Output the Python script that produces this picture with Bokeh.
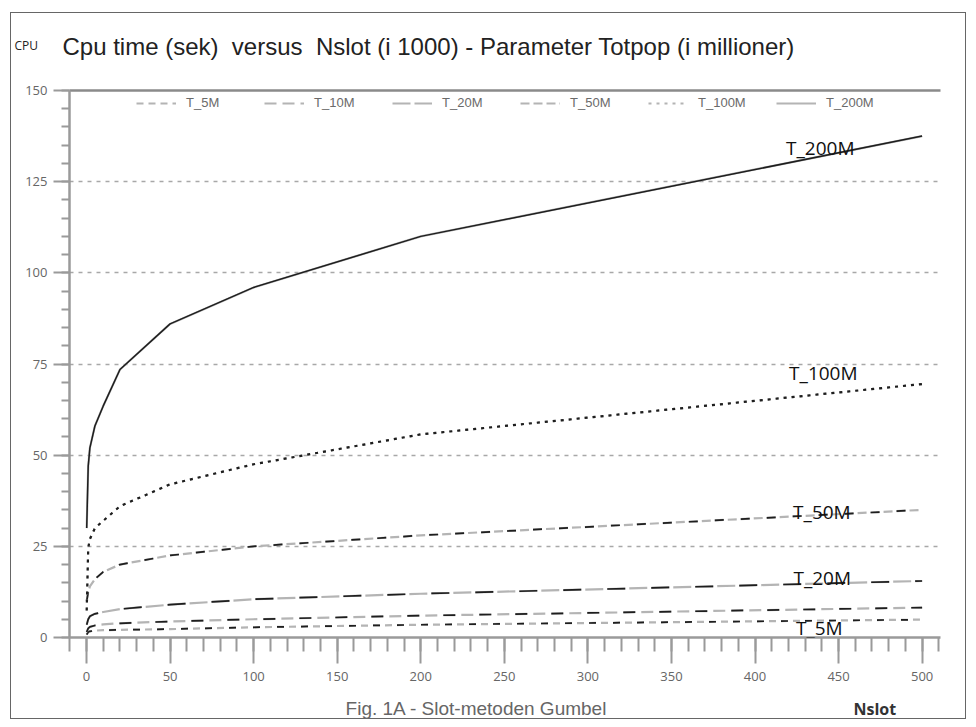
from bokeh.plotting import figure
from bokeh.layouts import column
from bokeh.models import (Range1d, LinearAxis, SingleIntervalTicker, FixedTicker,
                          Legend, LegendItem, Label)
from bokeh.embed import file_html
from bokeh.resources import INLINE

# ---- data ----
nslot = [0.1, 1, 2, 5, 10, 20, 50, 100, 200, 500]
t_5m = [0.8, 1.5, 1.7, 1.9, 2.0, 2.1, 2.3, 2.8, 3.5, 4.9]
t_10m = [1.5, 2.5, 2.9, 3.3, 3.6, 3.9, 4.4, 5.0, 6.0, 8.2]
t_20m = [3.5, 5.0, 5.8, 6.5, 7.0, 7.8, 9.0, 10.5, 12.0, 15.5]
t_50m = [10.0, 12.5, 14.0, 16.0, 18.0, 20.0, 22.5, 25.0, 28.0, 35.0]
t_100m = [7.4, 24.5, 27.0, 30.0, 32.0, 36.0, 42.0, 47.5, 55.7, 69.5]
t_200m = [30.0, 47.0, 52.0, 58.0, 63.5, 73.5, 86.0, 96.0, 110.0, 137.5]
series_names = ["T_5M", "T_10M", "T_20M", "T_50M", "T_100M", "T_200M"]

W = 954
NB = "\u00a0"

# ---------- header (title line) ----------
head = figure(width=W, height=67, min_border=0, x_axis_type=None, y_axis_type=None,
              output_backend="svg", toolbar_location=None,
              x_range=Range1d(0, 1), y_range=Range1d(0, 1))
head.frame_align = False
head.outline_line_color = None
head.xgrid.visible = False
head.ygrid.visible = False
head.add_layout(Label(x=3, y=35, x_units="screen", y_units="screen", text="CPU",
                      text_font="Open Sans", text_font_size="12px", text_color="#222222",
                      text_baseline="middle", text_align="left"))
head.add_layout(Label(x=51, y=34, x_units="screen", y_units="screen",
                      text="Cpu time (sek) " + NB + "versus " + NB + "Nslot (i 1000) - Parameter Totpop (i millioner)",
                      text_font="Liberation Sans", text_font_size="24px", text_color="#222222",
                      text_baseline="middle", text_align="left"))

# ---------- main chart ----------
p = figure(frame_width=871, frame_height=547,
           min_border_left=58, min_border_right=25,
           min_border_top=10, min_border_bottom=55,
           x_range=Range1d(-10.2, 511), y_range=Range1d(0, 150),
           output_backend="svg", toolbar_location=None,
           background_fill_color="white", border_fill_color="white")
p.frame_align = False
p.outline_line_color = None

AX = "#9a9a9a"
xa = p.xaxis[0]
xa.ticker = SingleIntervalTicker(interval=50, num_minor_ticks=5)
xa.axis_line_color = AX
xa.axis_line_width = 2.5
xa.major_tick_line_color = AX
xa.major_tick_line_width = 2
xa.minor_tick_line_color = AX
xa.minor_tick_line_width = 2
xa.major_tick_in = 0
xa.major_tick_out = 26
xa.minor_tick_in = 0
xa.minor_tick_out = 14
xa.major_label_standoff = 8
xa.major_label_text_font = "Open Sans"
xa.major_label_text_font_size = "13px"
xa.major_label_text_color = "#666666"

ya = p.yaxis[0]
ya.ticker = SingleIntervalTicker(interval=25, num_minor_ticks=5)
ya.axis_line_color = AX
ya.axis_line_width = 2.5
ya.major_tick_line_color = AX
ya.major_tick_line_width = 2
ya.minor_tick_line_color = AX
ya.minor_tick_line_width = 2
ya.major_tick_in = 0
ya.major_tick_out = 16
ya.minor_tick_in = 0
ya.minor_tick_out = 8
ya.major_label_standoff = 6
ya.major_label_text_font = "Open Sans"
ya.major_label_text_font_size = "13px"
ya.major_label_text_color = "#666666"

top = LinearAxis(ticker=FixedTicker(ticks=[]), axis_line_color="#8a8a8a",
                 axis_line_width=2.5, major_tick_line_color=None,
                 minor_tick_line_color=None, major_label_text_font_size="0px")
p.add_layout(top, "above")

p.xgrid.visible = False
p.ygrid.grid_line_color = "#a8a8a8"
p.ygrid.grid_line_width = 1.6
p.ygrid.grid_line_dash = "4 5"

GRAY = "#b4b4b4"
BLACK = "#1e1e1e"
styles = {
    "T_5M": (t_5m, "7 5", "7 17"),
    "T_10M": (t_10m, "12 6", "12 24"),
    "T_20M": (t_20m, "18 4", "18 26"),
    "T_50M": (t_50m, "9 4", "9 17"),
}
legend_renderers = {}
for name in ["T_5M", "T_10M", "T_20M", "T_50M"]:
    ys, gd, bd = styles[name]
    g = p.line(nslot, ys, line_color=GRAY, line_width=2.2, line_dash=gd)
    p.line(nslot, ys, line_color=BLACK, line_width=1.7, line_dash=bd)
    legend_renderers[name] = g

g100 = p.line(nslot, t_100m, line_color=GRAY, line_width=2.2, line_dash="3 5")
p.line(nslot, t_100m, line_color=BLACK, line_width=2.2, line_dash="3 5")
legend_renderers["T_100M"] = g100

g200 = p.line(nslot, t_200m, line_color=GRAY, line_width=2.2)
p.line(nslot, t_200m, line_color=BLACK, line_width=1.5)
legend_renderers["T_200M"] = g200

legend = Legend(items=[LegendItem(label=n, renderers=[legend_renderers[n]]) for n in series_names],
                orientation="horizontal", location=(67, 527),
                glyph_width=40, glyph_height=12, label_standoff=10,
                label_width=68, label_height=12, spacing=10,
                padding=0, margin=0, border_line_color=None,
                background_fill_alpha=0,
                label_text_font="Liberation Sans", label_text_font_size="13px",
                label_text_color="#6a6a6a")
p.add_layout(legend)

for txt, x, y in [("T_200M", 418.6, 134.1), ("T_100M", 420.4, 72.4),
                  ("T_50M", 422.8, 34.3), ("T_20M", 423.0, 16.2), ("T_5M", 424.5, 2.5)]:
    p.add_layout(Label(x=x, y=y, text=txt, text_font="Open Sans",
                       text_font_size="19px", text_color="#111111",
                       text_baseline="alphabetic", text_align="left"))

# ---------- footer ----------
foot = figure(width=W, height=26, min_border=0, x_axis_type=None, y_axis_type=None,
              output_backend="svg", toolbar_location=None,
              x_range=Range1d(0, 1), y_range=Range1d(0, 1))
foot.frame_align = False
foot.outline_line_color = None
foot.xgrid.visible = False
foot.ygrid.visible = False
foot.add_layout(Label(x=465, y=10, x_units="screen", y_units="screen",
                      text="Fig. 1A - Slot-metoden Gumbel", text_font="Liberation Sans",
                      text_font_size="19px", text_color="#666666",
                      text_baseline="middle", text_align="center"))
foot.add_layout(Label(x=842, y=10, x_units="screen", y_units="screen", text="Nslot",
                      text_font="Open Sans", text_font_size="16px", text_font_style="bold",
                      text_color="#333333", text_baseline="middle", text_align="left"))

page = column(head, p, foot, spacing=0)
page.margin = (12, 0, 0, 10)
page.styles = {"border": "1px solid #666666", "background-color": "white"}

open("out.html", "w").write(file_html(page, INLINE))
